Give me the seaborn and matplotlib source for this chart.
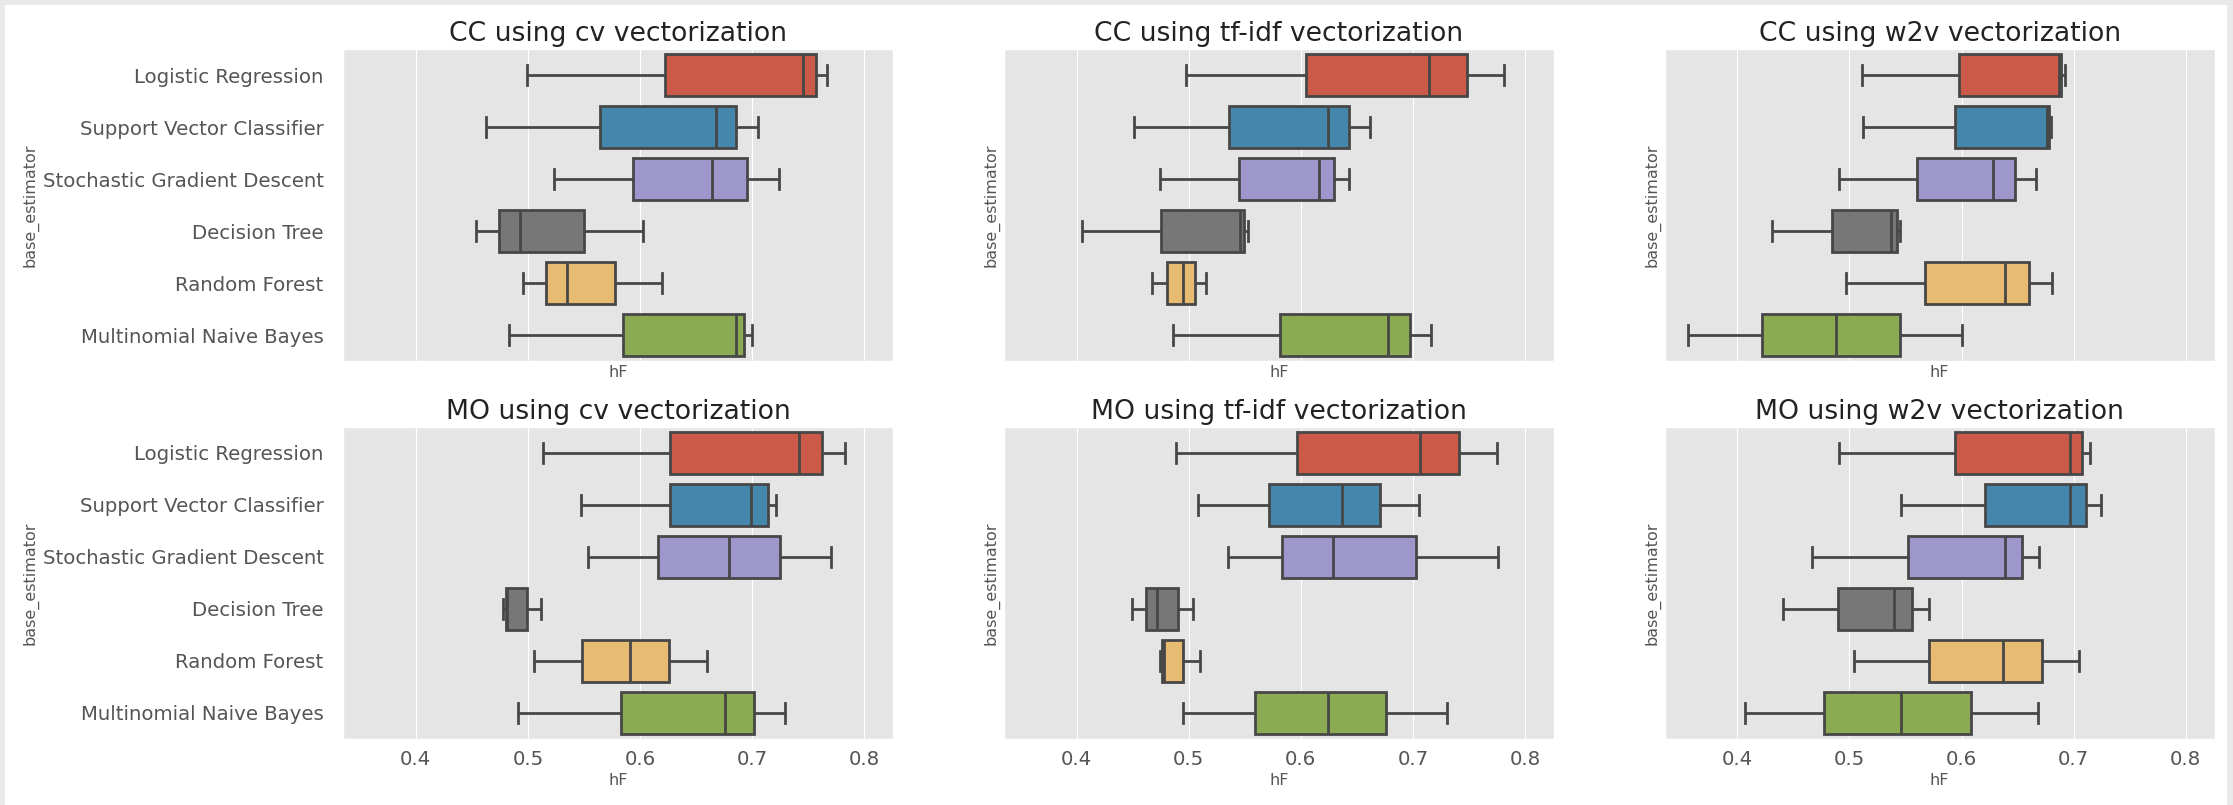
import pandas as pd
import numpy as np
import matplotlib
matplotlib.use("Agg")
import matplotlib.pyplot as plt
import seaborn as sns
from matplotlib.patches import Rectangle

plt.style.use('ggplot')
plt.rcParams['font.family'] = ['DejaVu Sans']

estimators = ['Logistic Regression', 'Support Vector Classifier',
              'Stochastic Gradient Descent', 'Decision Tree',
              'Random Forest', 'Multinomial Naive Bayes']

# five number summaries (min, q1, median, q3, max) of hF per estimator
cc_cv = [[0.499, 0.622, 0.745, 0.757, 0.767],
         [0.463, 0.564, 0.668, 0.686, 0.705],
         [0.523, 0.594, 0.664, 0.695, 0.724],
         [0.454, 0.474, 0.493, 0.550, 0.603],
         [0.496, 0.516, 0.535, 0.578, 0.620],
         [0.483, 0.585, 0.686, 0.693, 0.700]]
cc_tfidf = [[0.498, 0.605, 0.714, 0.748, 0.781],
            [0.451, 0.536, 0.624, 0.643, 0.662],
            [0.474, 0.545, 0.616, 0.630, 0.643],
            [0.405, 0.475, 0.546, 0.549, 0.553],
            [0.467, 0.481, 0.495, 0.506, 0.515],
            [0.486, 0.581, 0.678, 0.697, 0.716]]
cc_w2v = [[0.511, 0.598, 0.687, 0.689, 0.692],
          [0.512, 0.594, 0.676, 0.678, 0.680],
          [0.491, 0.560, 0.628, 0.648, 0.666],
          [0.431, 0.484, 0.537, 0.542, 0.545],
          [0.497, 0.567, 0.639, 0.660, 0.681],
          [0.356, 0.422, 0.488, 0.545, 0.600]]
mo_cv = [[0.513, 0.627, 0.742, 0.762, 0.783],
         [0.547, 0.627, 0.699, 0.714, 0.721],
         [0.554, 0.616, 0.679, 0.725, 0.770],
         [0.478, 0.480, 0.481, 0.499, 0.512],
         [0.505, 0.548, 0.591, 0.626, 0.660],
         [0.491, 0.583, 0.676, 0.702, 0.729]]
mo_tfidf = [[0.489, 0.597, 0.706, 0.741, 0.775],
            [0.508, 0.572, 0.637, 0.671, 0.705],
            [0.535, 0.583, 0.629, 0.703, 0.776],
            [0.449, 0.462, 0.472, 0.490, 0.504],
            [0.474, 0.476, 0.478, 0.495, 0.510],
            [0.495, 0.559, 0.624, 0.676, 0.730]]
mo_w2v = [[0.491, 0.594, 0.697, 0.707, 0.715],
          [0.546, 0.621, 0.697, 0.711, 0.724],
          [0.467, 0.552, 0.639, 0.654, 0.669],
          [0.441, 0.490, 0.540, 0.556, 0.571],
          [0.504, 0.571, 0.637, 0.672, 0.705],
          [0.407, 0.477, 0.546, 0.608, 0.668]]

panels = [('CC using cv vectorization', cc_cv),
          ('CC using tf-idf vectorization', cc_tfidf),
          ('CC using w2v vectorization', cc_w2v),
          ('MO using cv vectorization', mo_cv),
          ('MO using tf-idf vectorization', mo_tfidf),
          ('MO using w2v vectorization', mo_w2v)]

palette = ['#E24A33', '#348ABD', '#988ED5', '#777777', '#FBC15E', '#8EBA42']

fig, axes = plt.subplots(2, 3, figsize=(22.33, 8.05), dpi=100,
                         sharex=True, sharey=True)
fig.patch.set_facecolor('#e9e9e9')
fig.patches.append(Rectangle((5 / 2233, 0), 1 - 11 / 2233, 1 - 5 / 805,
                             transform=fig.transFigure, facecolor='white',
                             edgecolor='none', zorder=-10))

for ax, (title, stats) in zip(axes.flat, panels):
    rows = []
    for name, vals in zip(estimators, stats):
        for v in vals:
            rows.append({'base_estimator': name, 'hF': v})
    df = pd.DataFrame(rows)
    sns.boxplot(data=df, x='hF', y='base_estimator', hue='base_estimator',
                order=estimators, hue_order=estimators, palette=palette,
                whis=(0, 100), linewidth=2, legend=False, ax=ax)
    ax.set_title(title, fontsize=19.2, color='#222222')
    ax.set_xlabel('hF', fontsize=11.5, color='#555555', labelpad=3)
    ax.set_ylabel('base_estimator', fontsize=11.5, color='#555555',
                  labelpad=3)
    ax.xaxis.label.set_visible(True)
    ax.yaxis.label.set_visible(True)
    ax.tick_params(axis='both', labelsize=14.2, length=0)
    ax.tick_params(axis='y', pad=14)
    ax.tick_params(axis='x', pad=8)
    ax.set_xlim(0.335, 0.826)
    ax.set_xticks([0.4, 0.5, 0.6, 0.7, 0.8])

plt.subplots_adjust(left=0.1536, right=0.9919, top=0.9391, bottom=0.0820,
                    wspace=0.2005, hspace=0.2115)
plt.savefig('out.png', facecolor=fig.get_facecolor())
